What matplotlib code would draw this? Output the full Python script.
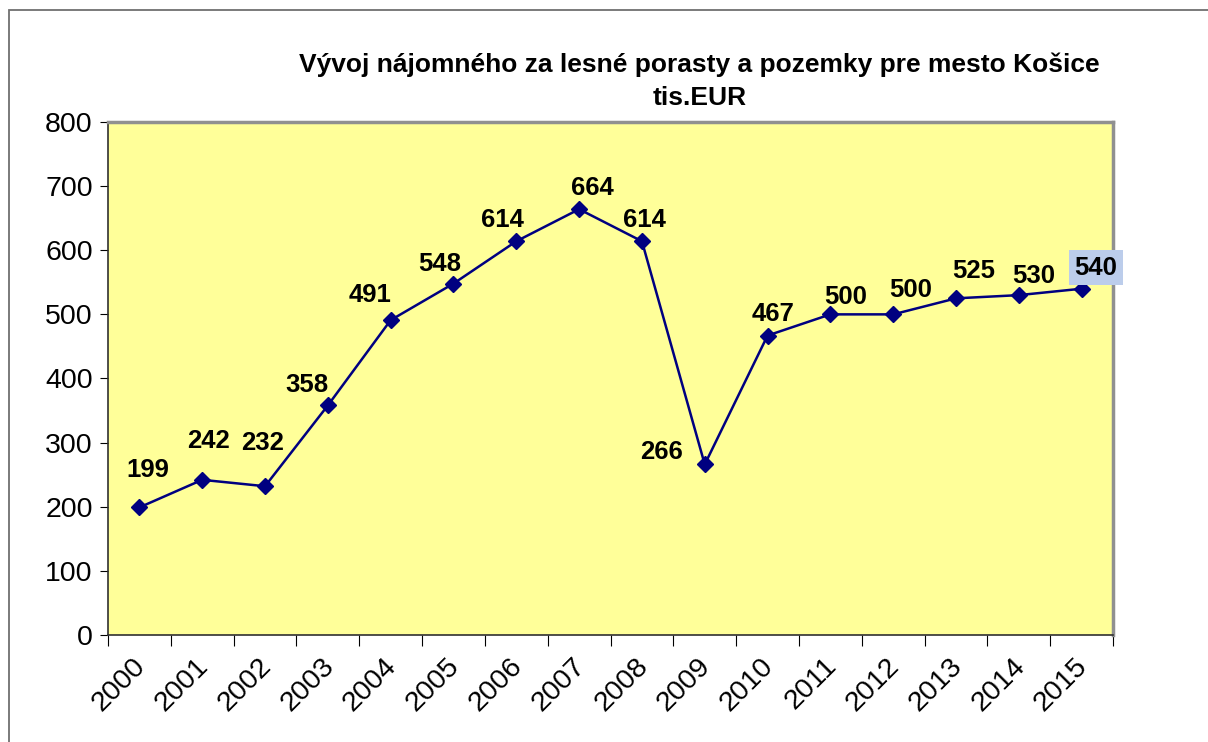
import matplotlib
matplotlib.use("Agg")
import matplotlib.pyplot as plt
from matplotlib.patches import Rectangle
from matplotlib.transforms import ScaledTranslation

plt.rcParams['font.family'] = ['Liberation Sans', 'DejaVu Sans']

years = ['2000', '2001', '2002', '2003', '2004', '2005', '2006', '2007',
         '2008', '2009', '2010', '2011', '2012', '2013', '2014', '2015']
values = [199, 242, 232, 358, 491, 548, 614, 664, 614, 266, 467, 500, 500, 525, 530, 540]

# label offsets in pixels (dx, dy)
label_offsets = [(8, 37), (6, 39), (-2, 43), (-21, 20), (-21, 25), (-14, 20),
                 (-14, 21), (13, 21), (3, 21), (-43, 12), (5, 22), (15, 17),
                 (17, 24), (18, 27), (15, 19), (14, 21)]

fig = plt.figure(figsize=(12.08, 7.42), dpi=100)
ax = fig.add_axes([0.0894, 0.1442, 0.832, 0.6914])
ax.set_facecolor('#FFFF99')

x = list(range(len(years)))
ax.plot(x, values, color='#000080', lw=1.8, marker='D', markersize=8.5,
        markerfacecolor='#000080', markeredgecolor='#000080')

for i, v in enumerate(values):
    dx, dy = label_offsets[i]
    kw = {}
    if i == len(values) - 1:
        kw['bbox'] = dict(boxstyle='square,pad=0.22', fc='#BCCDEB', ec='none')
    ax.annotate(str(v), (i, v), xytext=(dx, dy), textcoords='offset pixels',
                ha='center', va='center', fontsize=18.5, fontweight='bold', **kw)

ax.set_xlim(-0.5, len(years) - 0.5)
ax.set_ylim(0, 800)
ax.set_yticks(range(0, 801, 100))
ax.tick_params(axis='y', labelsize=20.5, length=6, direction='out', pad=5)

ax.set_xticks([i - 0.5 for i in range(len(years) + 1)])
ax.set_xticklabels([])
ax.set_xticks(x, minor=True)
ax.set_xticklabels(years, minor=True, rotation=45, ha='right',
                   rotation_mode='anchor', fontsize=20.5)
ax.tick_params(axis='x', which='major', length=8, direction='out')
ax.tick_params(axis='x', which='minor', length=0, pad=13)
shift = ScaledTranslation(-0.07, 0, fig.dpi_scale_trans)
for lab in ax.get_xticklabels(minor=True):
    lab.set_transform(lab.get_transform() + shift)

for s in ['top', 'right']:
    ax.spines[s].set_color('#909090')
    ax.spines[s].set_linewidth(2.5)
for s in ['left', 'bottom']:
    ax.spines[s].set_color('#303030')
    ax.spines[s].set_linewidth(1.2)

fig.text(0.579, 0.913, 'Vývoj nájomného za lesné porasty a pozemky pre mesto Košice',
         ha='center', va='center', fontsize=19, fontweight='bold')
fig.text(0.579, 0.868, 'tis.EUR', ha='center', va='center', fontsize=19, fontweight='bold')

border = Rectangle((9 / 1208, -0.1), 1.2, 1.1 - 10 / 742, transform=fig.transFigure,
                   fill=False, edgecolor='#707070', lw=1.3, clip_on=False)
fig.patches.append(border)

fig.savefig('out.png', dpi=100, facecolor='white')
